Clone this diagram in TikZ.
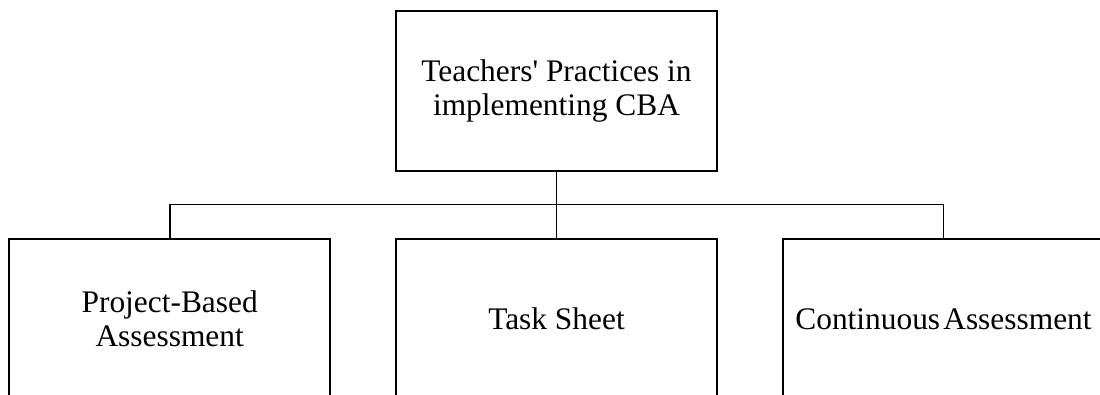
\documentclass[tikz,border=0pt]{standalone}
\usepackage{fontspec}
\setmainfont{Liberation Serif}
\begin{document}
\begin{tikzpicture}[x=1pt,y=1pt,
  box/.style={draw, line width=2.3pt, minimum width=321pt, minimum height=160pt,
    inner sep=0pt, align=center, font=\fontsize{31.4}{34.5}\selectfont},
  conn/.style={draw, line width=1.8pt}]
\useasboundingbox (0,0) rectangle (1100,-395);
\clip (0,0) rectangle (1100,-395);
\node[box] (top) at (556.5,-91) {Teachers\textquotesingle{} Practices in\\implementing CBA};
\node[box] (pba) at (169.7,-319) {Project-Based\\Assessment};
\node[box] (ts) at (556.5,-319) {Task Sheet};
\node[box] (ca) at (943.5,-319) {Continuous\kern0.1em Assessment};
\coordinate (bus) at (556.5,-204.5);
\draw[conn] (top.south) -- (bus);
\draw[conn] (bus) -- (ts.north);
\draw[conn] (pba.north) |- (bus) -| (ca.north);
\end{tikzpicture}
\end{document}
